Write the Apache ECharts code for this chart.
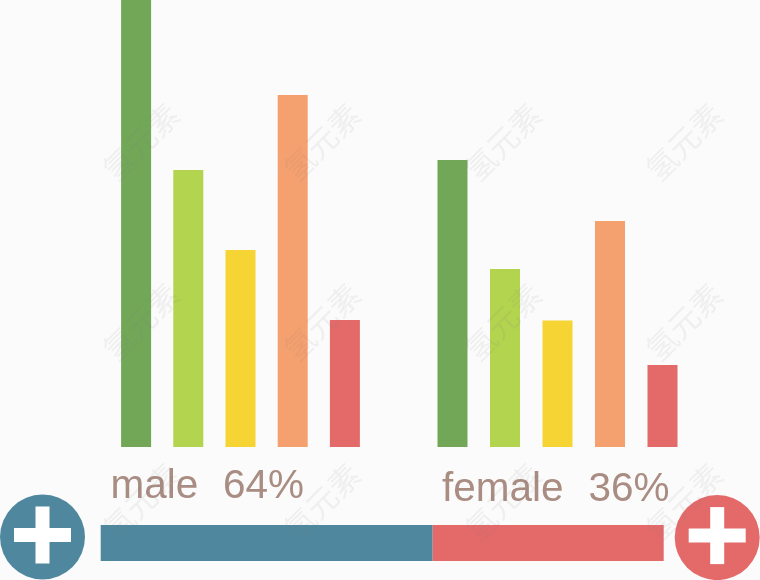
<!DOCTYPE html>
<html><head><meta charset="utf-8">
<style>html,body{margin:0;padding:0;background:#fbfbfb}#c{width:760px;height:580px}</style>
<script src="https://cdn.jsdelivr.net/npm/echarts@6/dist/echarts.min.js"></script>
</head><body><div id="c"></div>
<script>
const slots = ['a','b','c','d','e'];
const maleValues = [447, 277, 197, 352, 127];
const femaleValues = [287, 178, 126.5, 226, 82];
const barColors = ['#72a758','#b3d44f','#f6d433','#f5a06f','#e46a6a'];
const shareBarMale = [332];
const shareBarFemale = [231];
const labelTexts = ['male','64%','female','36%'];
const teal = '#4f889e', red = '#e46a6a', textColor = '#a98c82';
const markText = '氢元素';
const markCols = [141, 322, 503, 684], markRows = [142, 322, 502];

const chart = echarts.init(document.getElementById('c'), null, {renderer:'canvas'});
const colored = a => a.map((v,i)=>({value:v,itemStyle:{color:barColors[i]}}));
const marks = [];
markRows.forEach(y=>markCols.forEach(x=>marks.push({
  type:'text', x, y, rotation:Math.PI/4, z:50, silent:true,
  style:{text:markText, font:'31px "Noto Sans CJK SC"', fill:'rgba(120,120,120,0.09)', align:'center', verticalAlign:'middle'}
})));
const badge = (cx,cy,plusY,color)=>({
  type:'group', x:cx, y:cy, z:20, children:[
    {type:'circle', shape:{cx:0,cy:0,r:42.5}, style:{fill:color}},
    {type:'rect', shape:{x:-28.5,y:plusY-7,width:57,height:14}, style:{fill:'#fff'}},
    {type:'rect', shape:{x:-7,y:plusY-28.5,width:14,height:57}, style:{fill:'#fff'}}
  ]});
const label = (text,x,y)=>({type:'text', x, y, z:20,
  style:{text, font:'40.5px "Liberation Sans"', fill:textColor, align:'left', verticalAlign:'middle'}});

chart.setOption({
  animation:false,
  backgroundColor:'#fbfbfb',
  grid:[
    {left:110, top:0, width:261, height:447},
    {left:426.25, top:0, width:262.5, height:447},
    {left:100.7, top:525, width:563, height:36}
  ],
  xAxis:[
    {type:'category', data:slots, gridIndex:0, show:false},
    {type:'category', data:slots, gridIndex:1, show:false},
    {type:'value', gridIndex:2, min:0, max:563, show:false}
  ],
  yAxis:[
    {type:'value', gridIndex:0, min:0, max:447, show:false},
    {type:'value', gridIndex:1, min:0, max:447, show:false},
    {type:'category', gridIndex:2, data:['share'], show:false}
  ],
  series:[
    {type:'bar', xAxisIndex:0, yAxisIndex:0, barWidth:30, data:colored(maleValues)},
    {type:'bar', xAxisIndex:1, yAxisIndex:1, barWidth:30, data:colored(femaleValues)},
    {type:'bar', xAxisIndex:2, yAxisIndex:2, stack:'s', barWidth:36, itemStyle:{color:teal}, data:shareBarMale},
    {type:'bar', xAxisIndex:2, yAxisIndex:2, stack:'s', barWidth:36, itemStyle:{color:red}, data:shareBarFemale}
  ],
  graphic:[
    badge(42.5,537,-2,teal), badge(717.2,537.6,-2,red),
    label(labelTexts[0],110.5,487), label(labelTexts[1],223,487),
    label(labelTexts[2],442,490), label(labelTexts[3],588.5,490),
    ...marks
  ]
});
</script></body></html>
